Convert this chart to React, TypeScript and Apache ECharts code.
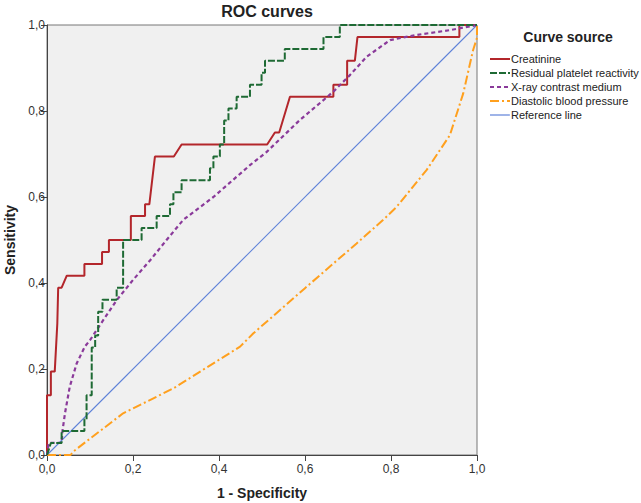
import React, { useEffect, useRef } from "react";
import * as echarts from "echarts";

const seriesNames = [
  "Creatinine",
  "Residual platelet reactivity",
  "X-ray contrast medium",
  "Diastolic blood pressure",
  "Reference line",
];

const creatinineX = [0, 0, 0.009, 0.009, 0.018, 0.024, 0.026, 0.034, 0.046, 0.087, 0.087, 0.128, 0.128, 0.144, 0.144, 0.195, 0.195, 0.228, 0.228, 0.238, 0.251, 0.295, 0.313, 0.512, 0.53, 0.54, 0.565, 0.666, 0.666, 0.698, 0.698, 0.716, 0.722, 0.959, 0.959, 1];
const creatinineY = [0, 0.139, 0.139, 0.194, 0.194, 0.306, 0.389, 0.389, 0.417, 0.417, 0.444, 0.444, 0.472, 0.472, 0.5, 0.5, 0.556, 0.556, 0.583, 0.583, 0.694, 0.694, 0.722, 0.722, 0.75, 0.75, 0.833, 0.833, 0.861, 0.861, 0.917, 0.917, 0.972, 0.972, 1, 1];

const plateletX = [0, 0.009, 0.034, 0.034, 0.087, 0.087, 0.092, 0.092, 0.104, 0.104, 0.112, 0.112, 0.119, 0.119, 0.129, 0.129, 0.162, 0.162, 0.177, 0.177, 0.22, 0.22, 0.255, 0.255, 0.286, 0.286, 0.294, 0.294, 0.313, 0.313, 0.379, 0.379, 0.387, 0.387, 0.402, 0.402, 0.412, 0.412, 0.422, 0.422, 0.441, 0.441, 0.472, 0.472, 0.499, 0.499, 0.507, 0.507, 0.553, 0.553, 0.643, 0.643, 0.681, 0.681, 1];
const plateletY = [0, 0.028, 0.028, 0.056, 0.056, 0.083, 0.083, 0.139, 0.139, 0.25, 0.25, 0.278, 0.278, 0.333, 0.333, 0.361, 0.361, 0.389, 0.389, 0.5, 0.5, 0.528, 0.528, 0.556, 0.556, 0.583, 0.583, 0.611, 0.611, 0.639, 0.639, 0.667, 0.667, 0.694, 0.694, 0.722, 0.722, 0.778, 0.778, 0.806, 0.806, 0.833, 0.833, 0.861, 0.861, 0.889, 0.889, 0.917, 0.917, 0.944, 0.944, 0.972, 0.972, 1, 1];

const contrastX = [0, 0.004, 0.034, 0.036, 0.042, 0.053, 0.069, 0.088, 0.1, 0.123, 0.162, 0.2, 0.24, 0.278, 0.317, 0.387, 0.472, 0.511, 0.588, 0.666, 0.705, 0.743, 0.798, 0.86, 0.937, 1];
const contrastY = [0, 0.028, 0.028, 0.056, 0.098, 0.159, 0.213, 0.252, 0.267, 0.302, 0.36, 0.407, 0.453, 0.5, 0.547, 0.6, 0.674, 0.705, 0.779, 0.845, 0.884, 0.926, 0.965, 0.977, 0.988, 1];

const diastolicX = [0, 0.055, 0.061, 0.177, 0.294, 0.449, 0.48, 0.6, 0.72, 0.782, 0.813, 0.883, 0.937, 0.968, 0.991, 1, 1];
const diastolicY = [0, 0, 0.008, 0.097, 0.155, 0.252, 0.283, 0.388, 0.492, 0.547, 0.577, 0.663, 0.744, 0.841, 0.942, 0.97, 1];

const referenceX = [0, 1];
const referenceY = [0, 1];

const colors = ["#b3262b", "#1e6a34", "#8a3a9a", "#ffa01e", "#5f82d8"];
const widths = [2, 2, 2.2, 2, 1.1];
const dashes: any[] = ["solid", [7, 2], [4, 3], [9, 3, 2, 3], "solid"];

const zip = (xs: number[], ys: number[]) => xs.map((x, i) => [x, ys[i]]);

const fmt = (v: number) => v.toFixed(1).replace(".", ",");

const FONT = '"Liberation Sans", Arial, sans-serif';

export default function App() {
  const ref = useRef<HTMLDivElement>(null);
  useEffect(() => {
    if (!ref.current) return;
    const chart = echarts.init(ref.current, null, { renderer: "svg" });
    const data = [
      zip(creatinineX, creatinineY),
      zip(plateletX, plateletY),
      zip(contrastX, contrastY),
      zip(diastolicX, diastolicY),
      zip(referenceX, referenceY),
    ];
    const order = [4, 0, 3, 2, 1];
    const series = order.map((i) => ({
      name: seriesNames[i],
      type: "line",
      data: data[i],
      showSymbol: false,
      symbol: "none",
      clip: false,
      color: colors[i],
      lineStyle: { color: colors[i], width: widths[i], type: dashes[i], opacity: 1 },
      z: 3,
    }));
    const legendX = 490;
    const legendTop = 59;
    const legendGap = 14;
    const graphic: any[] = [];
    seriesNames.forEach((n, i) => {
      const y = legendTop + i * legendGap;
      graphic.push({
        type: "line",
        shape: { x1: legendX, y1: y, x2: legendX + 20, y2: y },
        style: {
          stroke: colors[i],
          lineWidth: i === 4 ? 1.2 : 2,
          lineDash: Array.isArray(dashes[i]) ? dashes[i] : null,
        },
      });
      graphic.push({
        type: "text",
        x: legendX + 21,
        y: y,
        style: {
          text: n,
          fill: "#222",
          font: "11px " + FONT,
          verticalAlign: "middle",
          align: "left",
        },
      });
    });
    chart.setOption({
      animation: false,
      backgroundColor: "#ffffff",
      title: [
        {
          text: "ROC curves",
          left: 262,
          top: -2,
          textAlign: "center",
          textStyle: { fontSize: 16, fontWeight: "bold", color: "#222", fontFamily: FONT },
        },
        {
          text: "Curve source",
          left: 563,
          top: 25,
          textAlign: "center",
          textStyle: { fontSize: 14, fontWeight: "bold", color: "#222", fontFamily: FONT },
        },
      ],
      grid: {
        left: 47,
        top: 25,
        right: 164,
        bottom: 48,
        containLabel: false,
        outerBoundsMode: "none",
        show: true,
        backgroundColor: "#f0f0f0",
        borderColor: "#777",
        borderWidth: 1,
      },
      xAxis: {
        type: "value",
        min: 0,
        max: 1,
        interval: 0.2,
        name: "1 - Specificity",
        nameLocation: "middle",
        nameGap: 31,
        nameTextStyle: { fontSize: 14, fontWeight: "bold", color: "#222", fontFamily: FONT },
        axisLine: { show: true, lineStyle: { color: "#444", width: 1 } },
        axisTick: { show: true, length: 6, lineStyle: { color: "#444" } },
        axisLabel: { formatter: fmt, fontSize: 12, color: "#333", margin: 8, fontFamily: FONT },
        splitLine: { show: false },
      },
      yAxis: {
        type: "value",
        min: 0,
        max: 1,
        interval: 0.2,
        name: "Sensitivity",
        nameLocation: "middle",
        nameGap: 29,
        nameTextStyle: { fontSize: 14, fontWeight: "bold", color: "#222", fontFamily: FONT },
        axisLine: { show: true, lineStyle: { color: "#444", width: 1 } },
        axisTick: { show: true, length: 6, lineStyle: { color: "#444" } },
        axisLabel: { formatter: fmt, fontSize: 12, color: "#333", margin: 2, fontFamily: FONT },
        splitLine: { show: false },
      },
      series,
      graphic,
    });
    return () => chart.dispose();
  }, []);
  return (
    <div
      ref={ref}
      style={{ position: "fixed", left: 0, top: 0, width: 641, height: 503 }}
    />
  );
}
